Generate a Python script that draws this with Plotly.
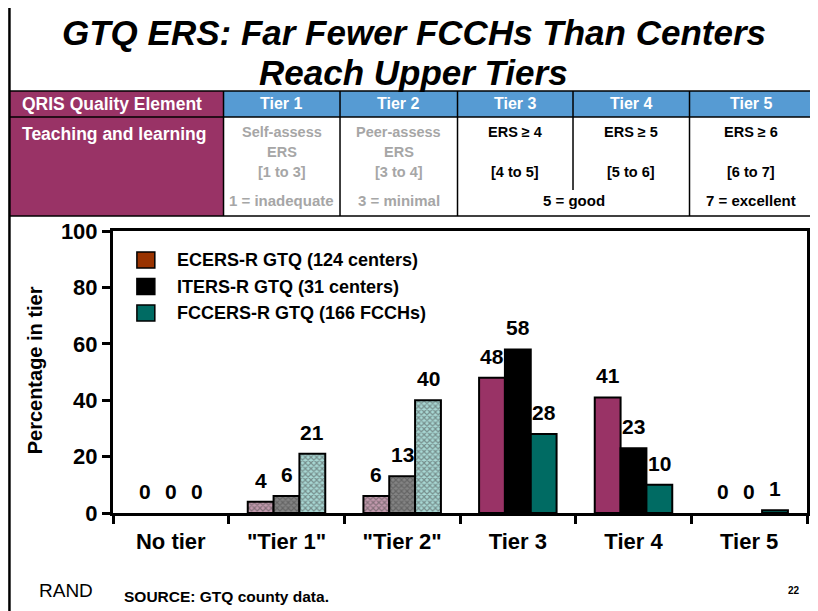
import plotly.graph_objects as go

# ---------------- data ----------------
categories = ["No tier", "\"Tier 1\"", "\"Tier 2\"", "Tier 3", "Tier 4", "Tier 5"]
series_names = ["ECERS-R GTQ (124 centers)", "ITERS-R GTQ (31 centers)", "FCCERS-R GTQ (166 FCCHs)"]
ecers = [0, 4, 6, 48, 41, 0]
iters = [0, 6, 13, 58, 23, 0]
fccers = [0, 21, 40, 28, 10, 1]
y_ticks = [0, 20, 40, 60, 80, 100]

title_lines = ["GTQ ERS: Far Fewer FCCHs Than Centers", "Reach Upper Tiers"]
table_row_labels = ["QRIS Quality Element", "Teaching and learning"]
tier_headers = ["Tier 1", "Tier 2", "Tier 3", "Tier 4", "Tier 5"]
tier_method = ["Self-assess", "Peer-assess", "ERS ≥ 4", "ERS ≥ 5", "ERS ≥ 6"]
tier_method2 = ["ERS", "ERS", "", "", ""]
tier_range = ["[1 to 3]", "[3 to 4]", "[4 to 5]", "[5 to 6]", "[6 to 7]"]
anchor_labels = ["1 = inadequate", "3 = minimal", "5 = good", "7 = excellent"]
source_text = "SOURCE: GTQ county data."
logo_text = "RAND"
page_number = "22"

# ---------------- styles ----------------
OFF = 8  # browser body margin
W, H = 818 - OFF, 611 - OFF
L, R, T, B = 113 - OFF, 818 - 810, 231 - OFF, 611 - 513
PW, PH = W - L - R, H - T - B
FONT = "Liberation Sans, Arial, sans-serif"

def px(x):
    return (x - OFF - L) / PW

def py(y):
    return (H - B - (y - OFF)) / PH

patterned = [False, True, True, False, False, False]
solid_colors = ["#993366", "#000000", "#006b63"]
pat_bg = ["#c39aae", "#848484", "#a8d8d4"]
pat_fg = ["#74294f", "#1a1a1a", "#2f807a"]
legend_colors = ["#993300", "#000000", "#006b63"]
BLUE = "#569bd3"
PURPLE = "#993366"
GRAY = "#a6a6a6"

bargap = 0.33
cat_w = PW / len(categories)
bar_w = cat_w * (1 - bargap) / 3

fig = go.Figure()
for i, (name, vals) in enumerate(zip(series_names, [ecers, iters, fccers])):
    colors = [pat_bg[i] if p else solid_colors[i] for p in patterned]
    shapes_p = ["x" if p else "" for p in patterned]
    widths = [2 if v > 0 else 0 for v in vals]
    fig.add_trace(go.Bar(
        x=categories, y=vals, name=name, showlegend=False,
        marker=dict(color=colors, line=dict(color="black", width=widths),
                    pattern=dict(shape=shapes_p, fgcolor=pat_fg[i], size=4,
                                 solidity=0.5, fillmode="overlay")),
        hoverinfo="x+y+name",
    ))
    for j, v in enumerate(vals):
        fig.add_annotation(x=categories[j], y=v, xref="x", yref="y",
                           text=f"<b>{v}</b>", showarrow=False,
                           xshift=(i - 1) * bar_w, yanchor="bottom", yshift=8,
                           font=dict(family=FONT, size=21, color="black"))

shapes = []
ann = []

def line(x0, y0, x1, y1, w=1.5, c="black"):
    shapes.append(dict(type="line", xref="paper", yref="paper",
                       x0=px(x0), y0=py(y0), x1=px(x1), y1=py(y1),
                       line=dict(color=c, width=w), layer="above"))

def rect(x0, y0, x1, y1, fill):
    shapes.append(dict(type="rect", xref="paper", yref="paper",
                       x0=px(x0), y0=py(y0), x1=px(x1), y1=py(y1),
                       fillcolor=fill, line=dict(width=0), layer="below"))

def text(x, y, s, size, color="black", xanchor="center", bold=True, italic=False, angle=0):
    t = s
    if bold:
        t = f"<b>{t}</b>"
    if italic:
        t = f"<i>{t}</i>"
    ann.append(dict(x=px(x), y=py(y), xref="paper", yref="paper", text=t,
                    showarrow=False, xanchor=xanchor, yanchor="middle",
                    textangle=angle,
                    font=dict(family=FONT, size=size, color=color)))

# slide frame
line(9, 611, 9, 5, w=2.5)
line(9, 5, 816, 5, w=2.5)
line(816, 5, 816, 216, w=2.5)

# title
text(415, 32, title_lines[0], 35, italic=True)
text(415, 72, title_lines[1], 35, italic=True)

# table
cols = [224, 341, 459, 575, 692, 816]
r0, r1, r2 = 91, 117, 216
rect(9, r0, cols[0], r2, PURPLE)
rect(cols[0], r0, cols[-1], r1, BLUE)
line(9, r0, 816, r0)
line(9, r1, 816, r1)
line(9, r2, 816, r2)
for k, c in enumerate(cols):
    if k == 3:
        line(c, r0, c, r1)
        line(c, r1, c, 190)
    else:
        line(c, r0, c, r2)

text(20, 104, table_row_labels[0], 17.5, color="white", xanchor="left")
text(20, 134, table_row_labels[1], 17.5, color="white", xanchor="left")
for k in range(5):
    cx = (cols[k] + cols[k + 1]) / 2
    col = GRAY if k < 2 else "black"
    text(cx, 104, tier_headers[k], 16, color="white")
    text(cx, 132, tier_method[k], 14.5, color=col)
    if tier_method2[k]:
        text(cx, 152, tier_method2[k], 14.5, color=col)
    text(cx, 172, tier_range[k], 14.5, color=col)
text((cols[0] + cols[1]) / 2, 200, anchor_labels[0], 15, color=GRAY)
text((cols[1] + cols[2]) / 2, 200, anchor_labels[1], 15, color=GRAY)
text((cols[2] + cols[4]) / 2, 200, anchor_labels[2], 15)
text((cols[4] + cols[5]) / 2, 200, anchor_labels[3], 15)

# legend (manual)
for k, name in enumerate(series_names):
    yc = 260 + k * 26.5
    shapes.append(dict(type="rect", xref="paper", yref="paper",
                       x0=px(137), x1=px(155), y0=py(yc - 8), y1=py(yc + 8),
                       fillcolor=legend_colors[k], line=dict(color="black", width=1.5),
                       layer="above"))
    text(175, yc, name, 18, xanchor="left")

# y axis title
text(35, 370, "Percentage in tier", 20, angle=-90)

# footer
ann.append(dict(x=px(37), y=py(590), xref="paper", yref="paper", text=logo_text,
                showarrow=False, xanchor="left", yanchor="middle",
                font=dict(family=FONT, size=19, color="black")))
text(122, 596, source_text, 15.5, xanchor="left")
text(797, 590, page_number, 10)

for a in ann:
    fig.add_annotation(**a)

fig.update_layout(
    width=W, height=H,
    margin=dict(l=L, r=R, t=T, b=B, pad=0),
    paper_bgcolor="white", plot_bgcolor="white",
    barmode="group", bargap=bargap, bargroupgap=0,
    shapes=shapes,
    showlegend=False,
    font=dict(family=FONT, color="black"),
)
fig.update_xaxes(
    showline=True, linecolor="black", linewidth=3, mirror=True,
    ticks="outside", ticklen=8, tickwidth=3, tickcolor="black",
    tickson="boundaries", showgrid=False, ticklabelstandoff=7,
    tickfont=dict(family=FONT, size=22, color="black", weight="bold"),
)
fig.update_yaxes(
    range=[0, 100], tickvals=y_ticks,
    showline=True, linecolor="black", linewidth=3, mirror=True,
    ticks="outside", ticklen=8, tickwidth=3, tickcolor="black",
    showgrid=False, zeroline=False,
    tickfont=dict(family=FONT, size=22, color="black", weight="bold"),
)

fig.write_html("out.html")
